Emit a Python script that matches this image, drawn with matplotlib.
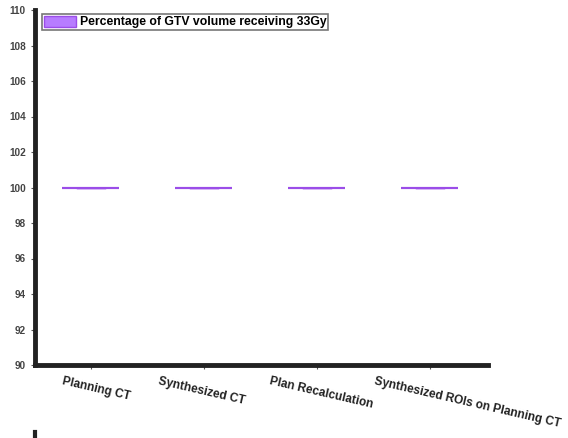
import matplotlib
matplotlib.use("Agg")
import matplotlib.pyplot as plt
from matplotlib.patches import Patch
from matplotlib.transforms import ScaledTranslation

plt.rcParams["font.family"] = ["Liberation Sans", "DejaVu Sans"]

categories = ["Planning CT", "Synthesized CT", "Plan Recalculation", "Synthesized ROIs on Planning CT"]
gtv_v33 = [
    [100, 100, 100, 100, 100],
    [100, 100, 100, 100, 100],
    [100, 100, 100, 100, 100],
    [100, 100, 100, 100, 100],
]
yticks = [90, 92, 94, 96, 98, 100, 102, 104, 106, 108, 110]
legend_label = "Percentage of GTV volume receiving 33Gy"

fill = "#b77cff"
edge = "#9b4de8"

fig = plt.figure(figsize=(5.68, 4.38), dpi=100)
ax = fig.add_axes([35 / 568, 1 - 365 / 438, (488 - 35) / 568, (365 - 10) / 438])

pos = list(range(len(categories)))
ax.boxplot(gtv_v33, positions=pos, widths=0.5, patch_artist=True,
           boxprops=dict(facecolor=fill, edgecolor=edge, linewidth=1.5),
           medianprops=dict(color=edge, linewidth=1.5),
           whiskerprops=dict(color=edge), capprops=dict(color=edge),
           showfliers=False)

ax.set_xlim(-0.493, 3.516)
ax.set_ylim(90, 110)
ax.set_yticks(yticks)
ax.set_yticklabels([str(t) for t in yticks], fontsize=7.2, fontweight="bold", color="#444444")
ax.set_xticks(pos)
ax.set_xticklabels([])

# slanted category labels, each starting a little left of its tick
shifts = [-27, -44, -46, -54]
for x, name, dx in zip(pos, categories, shifts):
    tr = ax.get_xaxis_transform() + ScaledTranslation(dx / 100, -10 / 100, fig.dpi_scale_trans)
    ax.text(x, 0, name, transform=tr, fontsize=8.6, fontweight="bold", color="#222222",
            rotation=-13, ha="left", va="top", rotation_mode="anchor", clip_on=False)

ax.tick_params(axis="both", length=3, width=0.8, color="#555555")

for s in ["top", "right"]:
    ax.spines[s].set_visible(False)
for s in ["left", "bottom"]:
    ax.spines[s].set_linewidth(3.5)
    ax.spines[s].set_color("#222222")

leg = ax.legend(handles=[Patch(facecolor=fill, edgecolor=edge, label=legend_label)],
                loc="upper left", bbox_to_anchor=(0.016, 0.989), frameon=True,
                fancybox=False, prop=dict(size=8.8, weight="bold"),
                handlelength=2.6, handleheight=1.0, borderpad=0.15, handletextpad=0.3,
                borderaxespad=0.0)
leg.get_frame().set_edgecolor("#555555")
leg.get_frame().set_linewidth(1.2)

# stub of the next panel's axis below
fig.add_artist(plt.Line2D([35 / 568, 35 / 568], [0, 6 / 438], color="#222222", linewidth=3,
                          transform=fig.transFigure))

fig.savefig("out.png", dpi=100)
